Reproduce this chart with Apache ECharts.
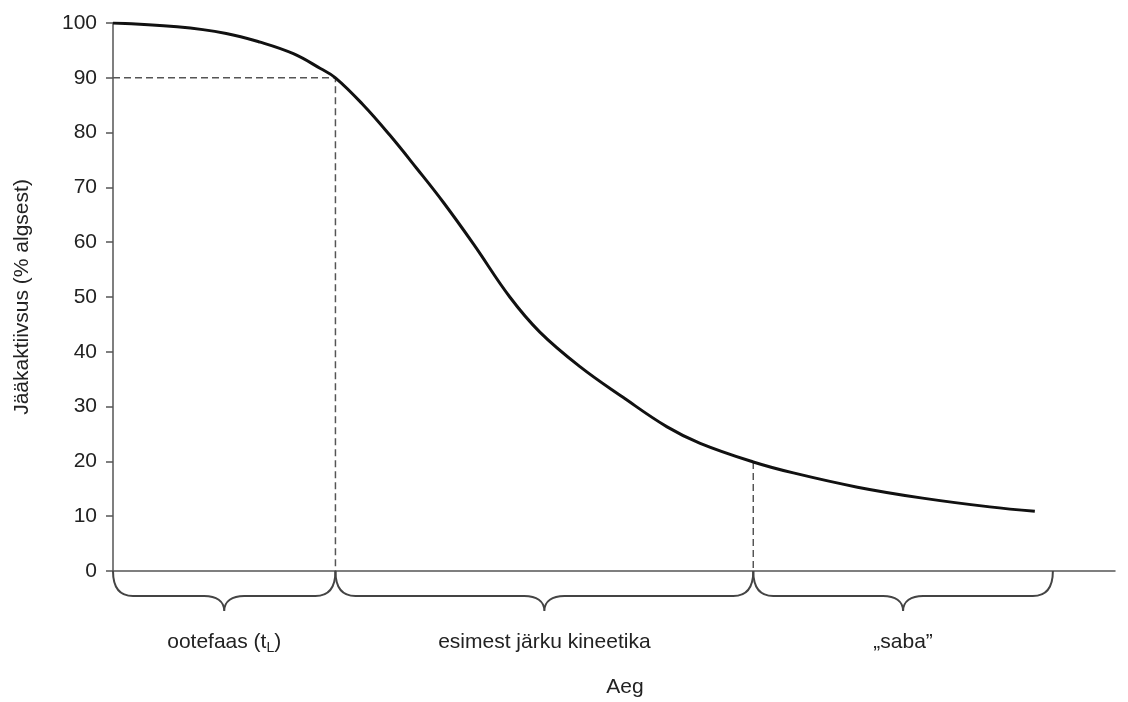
<!DOCTYPE html>
<html>
<head>
<meta charset="utf-8">
<script src="https://cdn.jsdelivr.net/npm/echarts@6/dist/echarts.min.js"></script>
<style>html,body{margin:0;padding:0;background:#fff}#c{width:1128px;height:702px}</style>
</head>
<body>
<div id="c"></div>
<script>
// Time (arbitrary units, 0..100) and residual activity (% of initial)
var timeValues = [0, 6.4, 11.3, 14.7, 18.0, 20.7, 22.2, 25.0, 27.6, 30.3, 33.0, 36.0, 39.6, 42.6, 46.6, 50.9, 55.3, 58.6, 63.9, 67.9, 74.3, 80.8, 87.5, 92.0];
var activityValues = [100, 99.3, 98.1, 96.5, 94.4, 91.7, 90, 85.0, 79.6, 73.5, 67.2, 59.6, 50.0, 43.6, 37.3, 31.7, 26.3, 23.3, 19.9, 17.9, 15.3, 13.3, 11.7, 10.9];
var yTicks = [0, 10, 20, 30, 40, 50, 60, 70, 80, 90, 100];
// Phase boundaries and labels
var phaseStarts = [0, 22.2, 63.9];
var phaseEnds = [22.2, 63.9, 93.8];
var phaseLabels = ['ootefaas (t{sub|L})', 'esimest järku kineetika', '„saba”'];
// Guide lines
var lagEnd = 22.2, lagLevel = 90;
var tailStart = 63.9, tailLevel = 19.9;

var curve = timeValues.map(function (t, i) { return [t, activityValues[i]]; });
var phases = phaseStarts.map(function (s, i) { return [s, phaseEnds[i], i]; });

var chart = echarts.init(document.getElementById('c'));
var FONT = '"Liberation Sans", Arial, sans-serif';
chart.setOption({
  animation: false,
  grid: { left: 113, right: 13, top: 23, bottom: 131, outerBoundsMode: 'none', containLabel: false },
  xAxis: {
    type: 'value', min: 0, max: 100,
    name: 'Aeg', nameLocation: 'middle', nameGap: 106,
    nameTextStyle: { fontFamily: FONT, fontSize: 21, color: '#222', padding: [0, 0, 0, 22] },
    axisLine: { show: true, lineStyle: { color: '#555', width: 1.5 } },
    axisTick: { show: false }, axisLabel: { show: false }, splitLine: { show: false }
  },
  yAxis: {
    type: 'value', min: yTicks[0], max: yTicks[yTicks.length - 1], interval: 10,
    name: 'Jääkaktiivsus (% algsest)', nameLocation: 'middle', nameGap: 80,
    nameTextStyle: { fontFamily: FONT, fontSize: 21, color: '#222' },
    axisLine: { show: true, lineStyle: { color: '#555', width: 1.5 } },
    axisTick: { show: true, length: 7, lineStyle: { color: '#555', width: 1.5 } },
    axisLabel: { fontFamily: FONT, fontSize: 21, color: '#222', margin: 16 },
    splitLine: { show: false }
  },
  series: [
    {
      type: 'line', data: [[0, lagLevel], [lagEnd, lagLevel], [lagEnd, 0]],
      showSymbol: false, silent: true,
      lineStyle: { color: '#555', width: 1.5, type: [7, 4] }
    },
    {
      type: 'line', data: [[tailStart, tailLevel], [tailStart, 0]],
      showSymbol: false, silent: true,
      lineStyle: { color: '#555', width: 1.5, type: [7, 4] }
    },
    {
      type: 'line', data: curve, smooth: 0.4, showSymbol: false, silent: true,
      lineStyle: { color: '#111', width: 3 }
    },
    {
      type: 'custom', data: phases, silent: true,
      renderItem: function (params, api) {
        var p0 = api.coord([api.value(0), 0]);
        var p1 = api.coord([api.value(1), 0]);
        var x0 = p0[0], y0 = p0[1], x1 = p1[0];
        var xm = (x0 + x1) / 2, yf = y0 + 25, r = 20, tip = 15;
        var d = 'M' + x0 + ' ' + y0 +
          ' Q' + x0 + ' ' + yf + ' ' + (x0 + r) + ' ' + yf +
          ' L' + (xm - 20) + ' ' + yf +
          ' C' + (xm - 8) + ' ' + yf + ' ' + xm + ' ' + (yf + 5) + ' ' + xm + ' ' + (yf + tip) +
          ' C' + xm + ' ' + (yf + 5) + ' ' + (xm + 8) + ' ' + yf + ' ' + (xm + 20) + ' ' + yf +
          ' L' + (x1 - r) + ' ' + yf +
          ' Q' + x1 + ' ' + yf + ' ' + x1 + ' ' + y0;
        var idx = api.value(2);
        return {
          type: 'group',
          children: [
            { type: 'path', shape: { pathData: d }, style: { fill: null, stroke: '#444', lineWidth: 2 } },
            {
              type: 'text', x: xm, y: yf + 46,
              style: {
                text: phaseLabels[idx], align: 'center', verticalAlign: 'middle',
                fontFamily: FONT, fontSize: 21, fill: '#222',
                rich: { sub: { fontFamily: FONT, fontSize: 14, fill: '#222', padding: [12, 0, 0, 0] } }
              }
            }
          ]
        };
      }
    }
  ]
});
</script>
</body>
</html>
